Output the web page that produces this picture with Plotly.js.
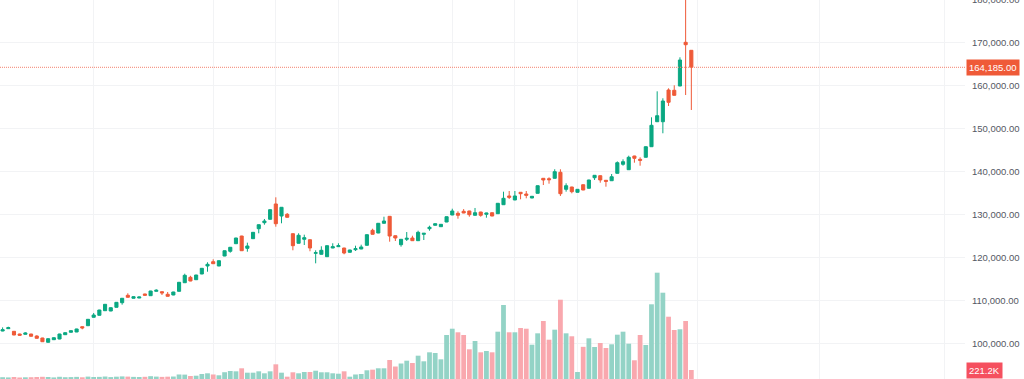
<!DOCTYPE html>
<html>
<head>
<meta charset="utf-8">
<script src="https://cdn.plot.ly/plotly-3.0.1.min.js"></script>
<style>
  html, body { margin: 0; padding: 0; background: #ffffff; overflow: hidden; width: 1024px; height: 379px; }
  #chart { position: absolute; left: 0; top: -21px; width: 1024px; height: 400px; }
</style>
</head>
<body>
<div id="chart"></div>
<script>
// ---- Data ----
const openP = [102860,103400,102790,102160,102090,102160,101700,101230,100230,100840,
  101000,102000,102560,102630,103860,104090,106050,106510,107580,107510,
  108370,109440,111160,110470,110530,111470,111070,112090,112000,111400,
  111230,112090,114090,115350,114790,116120,117980,118980,117980,120300,
  121400,123160,124950,122090,124330,126650,128050,128840,132400,129600,
  130000,125490,123260,124190,124090,120930,120700,120140,122160,122470,
  122160,121160,121770,121930,122790,126280,125650,127910,129530,125020,
  122930,124190,124490,123860,125350,126650,127440,127120,128210,129840,
  130230,130700,130770,129770,130530,130000,130370,130140,132230,134260,
  133330,135120,134720,133790,134880,138370,138280,138370,139770,135810,
  136350,135120,136880,136050,138510,138980,137910,137810,139530,141630,
  140370,143560,142790,143260,145720,151530,151530,158910,158840,159840,
  170000,168140];
const highP = [103700,103860,102850,102230,102560,102200,101860,101280,101120,101350,
  102200,102520,102980,103380,103920,105630,107050,107790,109120,108330,
  109580,110520,111630,110890,110820,111520,112210,112560,112050,111930,
  111980,114240,116190,115700,115930,117490,118840,119530,119260,121580,
  122380,124540,125000,123400,125860,127630,128910,131120,133950,131680,
  130300,125540,125580,125260,124140,121630,122560,122750,123260,123260,
  122210,121750,122700,122930,125310,126650,127960,129440,129580,125070,
  124240,125880,125020,126190,125630,127350,127860,127720,129490,131300,
  130700,131210,130820,131470,130580,130350,130420,132610,135260,135420,
  135420,135170,135420,134240,136700,138420,138600,140470,140470,137210,
  136400,135860,136930,138030,139120,139030,137960,139370,142300,142790,
  143630,143610,143260,145770,152560,158600,156980,159300,160000,166510,
  183000,168190];
const lowP = [102800,103350,101880,101700,102050,101600,101120,100330,100200,100800,
  100950,101960,102520,102600,103260,104050,106000,106470,107540,107470,
  108330,108980,110650,110430,110490,111120,111030,112050,111230,110890,
  111190,112050,114050,114440,114750,116080,116650,118470,117940,120260,
  121080,123120,121490,121300,124290,125580,127580,128800,127120,127910,
  129260,121630,123220,122860,121400,118600,120660,120100,122120,122430,
  120700,121120,121470,121890,122750,125310,125610,127870,123630,123790,
  122470,123790,123820,123820,124020,126190,127400,127080,128170,129800,
  128980,130260,129440,129730,129440,129210,129560,130100,132190,133560,
  133290,133490,133720,133750,134840,136810,137120,138330,134260,135260,
  134880,135080,135610,136010,137980,137350,136420,137770,139490,141300,
  140330,142000,141300,143220,145680,151490,148840,155190,157630,159800,
  157740,154260];
const closeP = [103160,103630,101930,101860,102400,101630,101160,100370,101070,101300,
  102160,102470,102930,103330,103560,105580,106580,107740,109070,108280,
  109530,110470,110700,110840,110770,111160,112160,112330,111700,110930,
  111930,114190,115810,114490,115880,117440,118370,118510,119210,121530,
  122330,124490,121530,122630,125810,127580,128440,131070,127810,131630,
  129300,122700,125120,124560,122160,121070,121630,122700,122470,122700,
  121000,121700,122000,122400,125260,125350,127910,128440,124950,124490,
  124190,124420,123860,125810,125580,126980,127810,127670,129440,130770,
  129770,130300,129910,130370,129770,130300,129600,132560,133720,133950,
  134260,134790,134420,134190,136650,137980,138050,139910,134790,136650,
  135260,135810,135650,137980,139070,137980,137670,138740,142000,142230,
  143260,143020,142560,145720,150700,152930,156350,156050,157670,165880,
  169440,164185];
// volume, thousands
const volumeK = [44,39,49,37,42,44,49,54,49,39,
  54,44,47,52,42,59,49,52,61,47,
  57,64,59,52,49,54,69,59,52,57,
  61,111,108,74,81,123,140,111,91,167,
  197,189,263,155,155,189,140,189,361,155,
  57,165,140,172,172,204,165,165,140,130,
  189,57,111,123,214,229,263,263,467,307,
  381,450,393,573,435,656,639,484,1082,1236,
  1148,1082,730,934,656,688,656,1163,1819,1148,
  1148,1254,1236,843,1123,1426,966,1212,1949,1123,
  1050,172,791,1000,787,885,762,853,1089,1163,
  868,460,1082,836,1836,2613,2121,1531,1204,1222,
  1426,221.2];
const priceTicks = [90000,100000,110000,120000,130000,140000,150000,160000,170000,180000];
const timeGrid = [16, 37, 48, 59, 79, 90, 101, 122, 143.5, 165.5];
const lastPriceLabel = '164,185.00';
const lastVolumeLabel = '221.2K';

// ---- Styles ----
const UP = '#0aa882', DOWN = '#ef5a38';
const UP_VOL = '#93d3c6', DOWN_VOL = '#f9a8ae';

const idx = closeP.map((_, i) => i);
const volColors = closeP.map((c, i) => c >= openP[i] ? UP_VOL : DOWN_VOL);
const lastClose = closeP[closeP.length - 1];
const lastVol = volumeK[volumeK.length - 1];

const traces = [
  {
    type: 'bar', x: idx, y: volumeK, xaxis: 'x', yaxis: 'y',
    marker: { color: volColors, line: { width: 0 } },
    hoverinfo: 'skip'
  },
  {
    type: 'candlestick', x: idx, open: openP, high: highP, low: lowP, close: closeP,
    xaxis: 'x', yaxis: 'y2', whiskerwidth: 0,
    increasing: { line: { color: UP, width: 1 }, fillcolor: UP },
    decreasing: { line: { color: DOWN, width: 1 }, fillcolor: DOWN },
    hoverinfo: 'skip'
  }
];

const layout = {
  width: 1024, height: 400,
  margin: { l: 0, r: 59, t: 0, b: 0, pad: 0 },
  paper_bgcolor: '#ffffff', plot_bgcolor: '#ffffff',
  showlegend: false,
  bargap: 0.16,
  boxgap: 0.22,
  xaxis: {
    range: [-0.457, 169.08], showticklabels: false, ticks: '',
    tickmode: 'array', tickvals: timeGrid,
    showgrid: true, gridcolor: '#f2f3f5', gridwidth: 1,
    zeroline: false, showline: false,
    rangeslider: { visible: false }, fixedrange: true
  },
  yaxis: {
    range: [0, 9831], visible: false, showgrid: false, zeroline: false, fixedrange: true
  },
  yaxis2: {
    overlaying: 'y', side: 'right', range: [91698, 184722],
    tickmode: 'array', tickvals: priceTicks, tickformat: ',.2f',
    showgrid: true, gridcolor: '#f2f3f5', gridwidth: 1,
    zeroline: false, showline: false, ticks: '', ticklabelstandoff: 6,
    tickfont: { family: 'Liberation Sans, Arial, sans-serif', size: 9.5, color: '#555863' },
    fixedrange: true
  },
  shapes: [
    {
      type: 'line', xref: 'paper', x0: 0, x1: 1, yref: 'y2', y0: lastClose, y1: lastClose,
      line: { color: '#f4836f', width: 1, dash: '1px,1px' }
    }
  ],
  annotations: [
    {
      xref: 'paper', x: 1, xanchor: 'left', xshift: 1, yref: 'y2', y: lastClose, yanchor: 'middle',
      text: lastPriceLabel, showarrow: false, bgcolor: '#ef5a38', borderpad: 2,
      font: { family: 'Liberation Sans, Arial, sans-serif', size: 9.5, color: '#ffffff' }
    },
    {
      xref: 'paper', x: 1, xanchor: 'left', xshift: 1, yref: 'y', y: lastVol, yanchor: 'middle',
      text: lastVolumeLabel, showarrow: false, bgcolor: '#f5505f', borderpad: 2,
      font: { family: 'Liberation Sans, Arial, sans-serif', size: 9.5, color: '#ffffff' }
    }
  ]
};

Plotly.newPlot('chart', traces, layout, { displayModeBar: false, staticPlot: true });
</script>
</body>
</html>
